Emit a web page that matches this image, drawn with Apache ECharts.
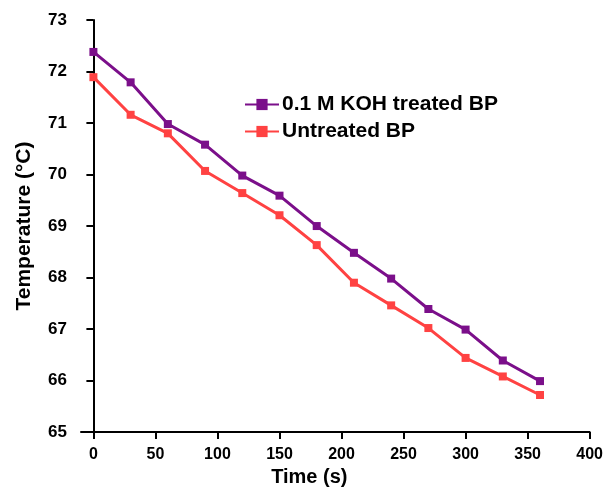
<!DOCTYPE html>
<html>
<head>
<meta charset="utf-8">
<script src="https://cdn.jsdelivr.net/npm/echarts@6/dist/echarts.min.js"></script>
<style>
html,body{margin:0;padding:0;background:#fff;}
#chart{width:606px;height:492px;}
</style>
</head>
<body>
<div id="chart"></div>
<script>
const timeValues = [0, 30, 60, 90, 120, 150, 180, 210, 240, 270, 300, 330, 360];
const kohTreated = [72.38, 71.79, 70.98, 70.58, 69.98, 69.59, 69.0, 68.48, 67.98, 67.39, 66.99, 66.39, 65.99];
const untreated = [71.89, 71.16, 70.80, 70.07, 69.64, 69.21, 68.63, 67.90, 67.46, 67.02, 66.44, 66.08, 65.72];
const xTickValues = [0, 50, 100, 150, 200, 250, 300, 350, 400];
const seriesNames = ['0.1 M KOH treated BP', 'Untreated BP'];

const font = 'Liberation Sans, Arial, sans-serif';
const chart = echarts.init(document.getElementById('chart'), null, {renderer: 'canvas'});

function pairs(vals) { return timeValues.map((t, i) => [t, vals[i]]); }

chart.setOption({
  animation: false,
  backgroundColor: '#fff',
  grid: {left: 81, right: 14, top: 20, bottom: 59, containLabel: false},
  legend: {
    orient: 'vertical',
    left: 239,
    top: 89,
    itemWidth: 34,
    itemHeight: 14,
    itemGap: 6,
    data: seriesNames,
    textStyle: {fontFamily: font, fontWeight: 'bold', fontSize: 21, color: '#000', lineHeight: 21, padding: [0, 0, 0, -2]}
  },
  xAxis: {
    type: 'value',
    min: -10,
    max: 400,
    name: 'Time (s)',
    nameLocation: 'middle',
    nameGap: 34,
    nameTextStyle: {fontFamily: font, fontWeight: 'bold', fontSize: 20, color: '#000', padding: [0, 52, 0, 0]},
    axisLine: {show: true, onZero: false, lineStyle: {color: '#000', width: 2}},
    axisTick: {show: true, inside: false, length: 7, lineStyle: {color: '#000', width: 2}, customValues: xTickValues},
    axisLabel: {fontFamily: font, fontWeight: 'bold', fontSize: 16, color: '#000', margin: 14, customValues: xTickValues},
    splitLine: {show: false}
  },
  yAxis: {
    type: 'value',
    min: 65,
    max: 73,
    interval: 1,
    name: 'Temperature (°C)',
    nameLocation: 'middle',
    nameGap: 46,
    nameTextStyle: {fontFamily: font, fontWeight: 'bold', fontSize: 21, color: '#000'},
    axisLine: {show: true, lineStyle: {color: '#000', width: 2}},
    axisTick: {show: true, inside: false, length: 7, lineStyle: {color: '#000', width: 2}},
    axisLabel: {fontFamily: font, fontWeight: 'bold', fontSize: 17, color: '#000', margin: 14},
    splitLine: {show: false}
  },
  series: [
    {
      name: seriesNames[0],
      type: 'line',
      data: pairs(kohTreated),
      symbol: 'rect',
      symbolSize: 8,
      lineStyle: {color: '#7b0f8a', width: 3},
      itemStyle: {color: '#7b0f8a'},
      z: 3
    },
    {
      name: seriesNames[1],
      type: 'line',
      data: pairs(untreated),
      symbol: 'rect',
      symbolSize: 8,
      lineStyle: {color: '#ff4242', width: 3},
      itemStyle: {color: '#ff4242'},
      z: 2
    }
  ]
});
</script>
</body>
</html>
